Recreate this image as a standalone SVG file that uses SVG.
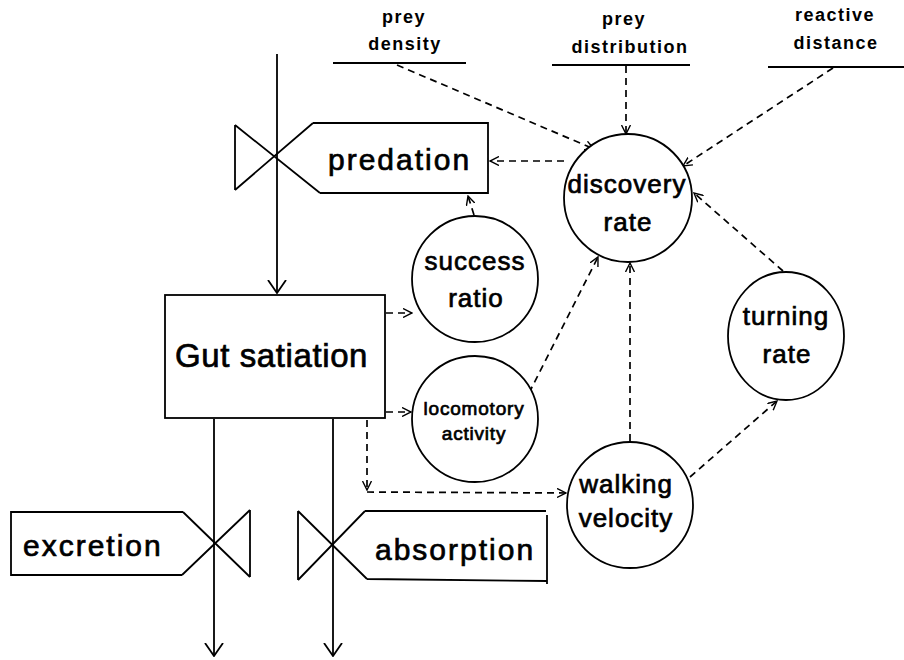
<svg xmlns="http://www.w3.org/2000/svg" width="904" height="660" viewBox="0 0 904 660">
<defs>
<style>
.s{fill:none;stroke:#000;stroke-width:1.8;stroke-linejoin:miter}
.c{fill:#fff;stroke:#000;stroke-width:1.8}
.d{fill:none;stroke:#000;stroke-width:1.7;stroke-dasharray:7 5}
.t{font-family:"Liberation Sans",Arial,sans-serif;fill:#000;stroke:#000;stroke-width:0.7}
.big{font-size:30px;letter-spacing:2px}
.gut{font-size:33px;letter-spacing:0.6px}
.cl{font-size:26px;letter-spacing:1px;text-anchor:middle}
.sm{font-size:19px;letter-spacing:0.8px;text-anchor:middle}
.top{font-size:18px;font-weight:bold;letter-spacing:1.5px;text-anchor:middle;stroke-width:0}
</style>
<marker id="fa" markerUnits="userSpaceOnUse" viewBox="0 0 14 20" refX="13" refY="10" markerWidth="14" markerHeight="20" orient="auto">
<path d="M0,1 L13,10 L0,19" fill="none" stroke="#000" stroke-width="1.8"/>
</marker>
<marker id="da" markerUnits="userSpaceOnUse" viewBox="0 0 10 10" refX="9" refY="5" markerWidth="10" markerHeight="10" orient="auto">
<path d="M0,0.5 L9,5 L0,9.5" fill="none" stroke="#000" stroke-width="1.4"/>
</marker>
</defs>
<rect width="904" height="660" fill="#fff"/>

<g id="connectors">
<path class="s" d="M277,54 L277,293" marker-end="url(#fa)"/>
<path class="s" d="M214,419 L214,656" marker-end="url(#fa)"/>
<path class="s" d="M333,419 L333,656" marker-end="url(#fa)"/>
<path class="d" d="M397,65 L594,149" marker-end="url(#da)"/>
<path class="d" d="M626,66 L626,134" marker-end="url(#da)"/>
<path class="d" d="M833,68 L683,166" marker-end="url(#da)"/>
<path class="d" d="M564,161 L490,161" marker-end="url(#da)"/>
<path class="d" d="M474,215 L468,196" marker-end="url(#da)"/>
<path class="d" d="M386,313 L412,313" marker-end="url(#da)"/>
<path class="d" d="M386,412 L411,412" marker-end="url(#da)"/>
<path class="d" d="M367,420 L367,490" marker-end="url(#da)"/>
<path class="d" d="M367,492 L566,493" marker-end="url(#da)"/>
<path class="d" d="M529,393 L598,257" marker-end="url(#da)"/>
<path class="d" d="M630,441 L630,263" marker-end="url(#da)"/>
<path class="d" d="M783,271 L694,193" marker-end="url(#da)"/>
<path class="d" d="M690,477 L777,401" marker-end="url(#da)"/>
</g>

<g id="prey-density">
<path class="s" d="M333,63 L466,63"/>
<text class="t top" x="404" y="23">prey</text>
<text class="t top" x="405" y="50">density</text>
</g>
<g id="prey-distribution">
<path class="s" d="M552,65 L690,65"/>
<text class="t top" x="624" y="25">prey</text>
<text class="t top" x="630" y="53">distribution</text>
</g>
<g id="reactive-distance">
<path class="s" d="M768,67 L904,67"/>
<text class="t top" x="835" y="21">reactive</text>
<text class="t top" x="836" y="49">distance</text>
</g>

<g id="predation">
<path class="s" d="M235,125 L235,190 M235,125 L320,193 M235,190 L313,123 M313,123 L488,123 L488,193 L320,193"/>
<text class="t big" x="328" y="170">predation</text>
</g>

<g id="gut-satiation">
<rect class="c" x="165" y="295" width="220" height="123"/>
<text class="t gut" x="175" y="367">Gut satiation</text>
</g>

<g id="excretion">
<path class="s" d="M250,510 L250,577 M183,512 L250,577 M182,575 L250,510 M183,512 L11,512 L11,575 L182,575"/>
<text class="t big" x="23" y="556">excretion</text>
</g>

<g id="absorption">
<path class="s" d="M298,511 L298,580 M298,511 L367,579 M298,580 L365,511 M365,511 L546,511 M547,515 L547,584 M367,579 L547,581"/>
<text class="t big" x="375" y="560">absorption</text>
</g>

<g id="discovery-rate">
<circle class="c" cx="628" cy="198" r="64"/>
<text class="t cl" x="627" y="193">discovery</text>
<text class="t cl" x="628" y="231">rate</text>
</g>

<g id="success-ratio">
<circle class="c" cx="475" cy="279" r="63"/>
<text class="t cl" x="475" y="270">success</text>
<text class="t cl" x="476" y="307">ratio</text>
</g>

<g id="locomotory-activity">
<circle class="c" cx="475" cy="419" r="63"/>
<text class="t sm" x="474" y="415">locomotory</text>
<text class="t sm" x="474" y="440">activity</text>
</g>

<g id="turning-rate">
<ellipse class="c" cx="786" cy="336" rx="58" ry="64"/>
<text class="t cl" x="786" y="325">turning</text>
<text class="t cl" x="787" y="363">rate</text>
</g>

<g id="walking-velocity">
<circle class="c" cx="630" cy="505" r="63"/>
<text class="t cl" x="626" y="493">walking</text>
<text class="t cl" x="626" y="527">velocity</text>
</g>
</svg>
